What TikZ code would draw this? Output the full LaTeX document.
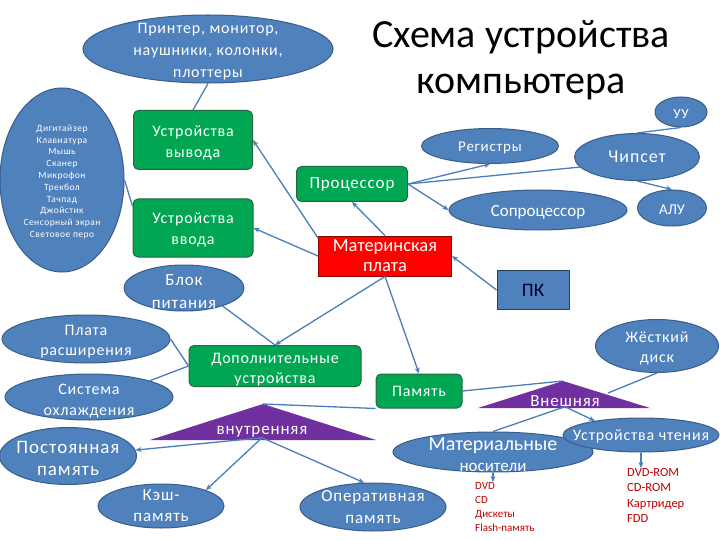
\documentclass[tikz,border=0pt]{standalone}
\usepackage{fontspec}
\setmainfont{Carlito}
\newfontfamily\wfont{Carlito}[LetterSpace=5]
\usetikzlibrary{shapes.geometric,arrows.meta}
\definecolor{ovalfill}{HTML}{4F81BD}
\definecolor{ovaldraw}{HTML}{385D8A}
\definecolor{boxfill}{HTML}{00A651}
\definecolor{boxdraw}{HTML}{22693F}
\definecolor{linkcol}{HTML}{4A7EBB}
\definecolor{trifill}{HTML}{7030A0}
\definecolor{listcol}{HTML}{C00000}
\newcommand{\fs}[2]{\fontsize{#1}{#2}\selectfont}

\begin{document}
\begin{tikzpicture}[x=1pt,y=-1pt,
  oval/.style={ellipse,draw=ovaldraw,fill=ovalfill,line width=1pt,inner sep=0pt},
  otext/.style={text=white,align=center,inner sep=0pt},
  ovl/.style 2 args={oval,label={[otext,#1]center:#2}},
  gbx/.style 2 args={draw=boxdraw,fill=boxfill,line width=1pt,rounded corners=5pt,
    inner sep=0pt,label={[otext,#1]center:#2}},
  link/.style={draw=linkcol,line width=1.3pt},
  arr/.style={link,-{Stealth[length=6pt,width=5pt]}}]
  \useasboundingbox (0,0) rectangle (720,540);
  \fill[white] (0,0) rectangle (720,540);

  \node[align=center,font=\fs{40}{46}] (title) at (521,60) {Схема устройства\\компьютера};

  \node[ovl={font=\wfont\fs{16}{22},yshift=-3}{Принтер, монитор,\\наушники, колонки,\\плоттеры},
    minimum width=250,minimum height=68] (printers) at (208,49) {};
  \node[ovl={font=\wfont\fs{9.5}{11.8},yshift=-2}{Дигитайзер\\Клавиатура\\Мышь\\Сканер\\Микрофон\\Трекбол\\Тачпад\\Джойстик\\Сенсорный экран\\Световое перо},
    minimum width=124,minimum height=184] (inlist) at (62,180) {};
  \node[gbx={font=\wfont\fs{16}{21},yshift=-3}{Устройства\\вывода},minimum width=119,minimum height=59] (outdev) at (193,140) {};
  \node[gbx={font=\wfont\fs{16}{21},yshift=-2}{Устройства\\ввода},minimum width=120,minimum height=58] (indev) at (193,228) {};
  \node[gbx={font=\wfont\fs{17}{18}}{Процессор},minimum width=111,minimum height=35] (cpu) at (352,184) {};

  \node[ovl={font=\wfont\fs{15}{17},yshift=-2}{Регистры},minimum width=137,minimum height=35] (regs) at (490,146) {};
  \node[ovl={font=\wfont\fs{18}{19}}{Чипсет},minimum width=125,minimum height=47] (chipset) at (637,157) {};
  \node[ovl={font=\wfont\fs{14}{16},yshift=-2}{УУ},minimum width=52,minimum height=30] (cu) at (681,112) {};
  \node[ovl={font=\fs{17}{20},yshift=-2}{Сопроцессор},minimum width=178,minimum height=40] (copro) at (538,210) {};
  \node[ovl={font=\fs{15}{18},yshift=-2}{АЛУ},minimum width=69,minimum height=36] (alu) at (672,208) {};

  \node[draw=red!55!black,fill=red,line width=1pt,inner sep=0pt,minimum width=133,minimum height=40,
    label={[otext,font=\fs{18.5}{20}]center:{Материнская\\плата}}] (mobo) at (385,256) {};
  \node[draw=ovaldraw!70!black,fill=ovalfill,line width=1pt,inner sep=0pt,minimum width=72,minimum height=39,
    label={[inner sep=0pt,text=black!85!blue,font=\fs{19}{20}]center:ПК}] (pc) at (533,290) {};

  \node[ovl={font=\wfont\fs{17}{23},yshift=-4}{Блок\\питания},minimum width=120,minimum height=46] (psu) at (184,288) {};
  \node[ovl={font=\wfont\fs{16}{20},yshift=-3}{Плата\\расширения},minimum width=168,minimum height=48] (expcard) at (86,339) {};
  \node[ovl={font=\wfont\fs{16}{21},yshift=-4}{Система\\охлаждения},minimum width=168,minimum height=46] (cooling) at (89,397) {};
  \node[gbx={font=\wfont\fs{16}{20},yshift=-4}{Дополнительные\\устройства},minimum width=172,minimum height=41] (extra) at (275,366) {};

  \node[ovl={font=\wfont\fs{16}{20},yshift=-2}{Жёсткий\\диск},minimum width=123,minimum height=53] (hdd) at (657,346) {};
  \node[gbx={font=\wfont\fs{16}{19}}{Память},minimum width=86,minimum height=34] (mem) at (419,391) {};

  \fill[trifill] (478,408) -- (563,381) -- (650,408) -- cycle;
  \coordinate (extapex) at (563,381);
  \coordinate (extne) at (608,393);
  \node[otext,font=\wfont\fs{17}{17}] (ext) at (565,401) {Внешняя};
  \fill[trifill] (150,440) -- (263,404) -- (376,440) -- cycle;
  \coordinate (intapex) at (263,404);
  \node[otext,font=\wfont\fs{17}{17}] (int) at (262,432) {внутренняя};

  \node[ovl={font=\wfont\fs{19}{22},yshift=-2}{Постоянная\\память},minimum width=137,minimum height=57] (rom) at (68,456) {};
  \node[ovl={font=\wfont\fs{17}{21}}{Кэш-\\память},minimum width=126,minimum height=44] (cache) at (161,506) {};
  \node[ovl={font=\wfont\fs{17}{22}}{Оперативная\\память},minimum width=146,minimum height=48] (ram) at (373,507) {};
  \node[ovl={font=\fs{20}{21},yshift=-3}{Материальные\\{\fs{17}{21}носители}},minimum width=200,minimum height=40] (media) at (493,452) {};
  \node[ovl={font=\wfont\fs{16}{19},yshift=-1}{Устройства чтения},minimum width=156,minimum height=34] (reader) at (641,435) {};

  \node[anchor=north west,align=left,inner sep=0pt,text=listcol,font=\fs{11}{14}] (mlist) at (475,482)
    {DVD\\CD\\Дискеты\\Flash-память};
  \node[anchor=north west,align=left,inner sep=0pt,text=listcol,font=\fs{12.5}{15.5}] (rlist) at (627,468)
    {DVD-ROM\\CD-ROM\\Картридер\\FDD};

  \draw[link] (printers.south) -- (outdev.north);
  \draw[link] (inlist.east) -- (indev.160);
  \draw[arr] (mobo.165) -- (outdev.east);
  \draw[arr] (mobo.west) -- (indev.east);
  \draw[arr] (mobo.north) -- (cpu.south);
  \draw[arr] (cpu.east) -- (regs.south);
  \draw[link] (cpu.east) -- (chipset.190);
  \draw[arr] (cpu.east) -- (copro.west);
  \draw[link] (chipset.north) -- (cu.south);
  \draw[arr] (chipset.south) -- (alu.north);
  \draw[arr] (pc.west) -- (mobo.east);
  \draw[arr] (mobo.south) -- (mem.north);
  \draw[arr] (mobo.south) -- (extra.north);
  \draw[link] (psu.-25) -- (extra.north);
  \draw[link] (expcard.east) -- (extra.west);
  \draw[link] (cooling.15) -- (extra.west);
  \draw[link] (hdd.south) -- (extne);
  \draw[link] (mem.east) -- (extapex);
  \draw[link] (mem.south west) -- (intapex);
  \draw[link] (ext.south) -- (media.north);
  \draw[arr] (ext.south) -- (reader.163);
  \draw[arr] (int.south) -- (rom.5);
  \draw[arr] (int.south) -- (cache.north east);
  \draw[arr] (int.south) -- (ram.110);
  \draw[arr] (media.south) -- (media.south |- mlist.north);
  \draw[arr] (reader.south) -- (reader.south |- rlist.north);
\end{tikzpicture}
\end{document}
